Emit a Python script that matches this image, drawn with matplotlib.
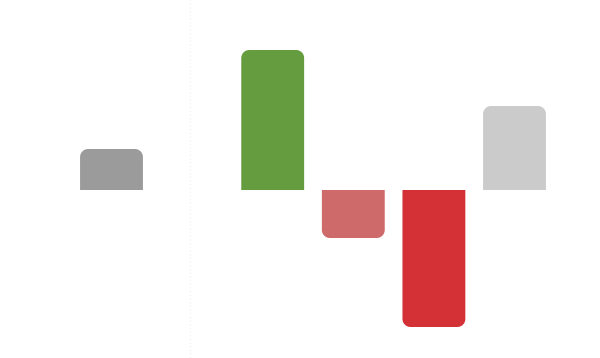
import matplotlib
matplotlib.use("Agg")
import numpy as np
import matplotlib.pyplot as plt
from matplotlib.patches import Polygon

categories = ["A", "B", "C", "D", "E"]
positions = [0, 2, 3, 4, 5]
values = [4.1, 14.0, -4.8, -13.7, 8.4]
colors = ["#9b9b9b", "#669c40", "#cf6a6b", "#d33136", "#cbcbcb"]

fig = plt.figure(figsize=(6, 3.58), dpi=100)
ax = fig.add_axes([0, 0, 1, 1])
x_per_px = 1 / 80.6
ax.set_xlim(-111.5 * x_per_px, (600 - 111.5) * x_per_px)
ax.set_ylim(-16.8, 19.0)
ax.axis("off")

width = 0.78
rx = 0.1   # corner radius in x data units
ry = 0.8   # corner radius in y data units


def rounded_bar(pos, v):
    x0, x1 = pos - width / 2, pos + width / 2
    s = 1 if v >= 0 else -1
    pts = [(x0, 0)]
    for a in np.linspace(np.pi, np.pi / 2, 12):
        pts.append((x0 + rx + rx * np.cos(a), v - s * ry + s * ry * np.sin(a)))
    for a in np.linspace(np.pi / 2, 0, 12):
        pts.append((x1 - rx + rx * np.cos(a), v - s * ry + s * ry * np.sin(a)))
    pts.append((x1, 0))
    return pts


for pos, v, c in zip(positions, values, colors):
    ax.add_patch(Polygon(rounded_bar(pos, v), closed=True, fc=c, ec="none", lw=0))

ax.axvline((190 - 111.5) * x_per_px, color="#f3f3f3", lw=1, ls=":", zorder=0)

fig.savefig("out.png", dpi=100)
